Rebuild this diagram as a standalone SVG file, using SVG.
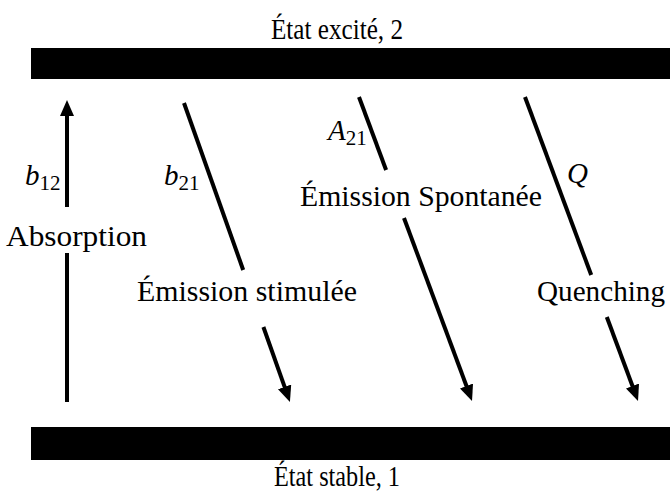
<svg xmlns="http://www.w3.org/2000/svg" width="670" height="491" viewBox="0 0 670 491">
<style>
.t{font-family:"Liberation Serif",serif;font-size:29px;fill:#000}
.m{font-family:"Liberation Serif",serif;font-size:29px;font-style:italic;fill:#000}
.s{font-size:21px;font-style:normal}
.ln{stroke:#000;stroke-width:4;fill:none}
.bar{fill:#000}
</style>
<defs>
<marker id="ah" markerUnits="userSpaceOnUse" markerWidth="16" markerHeight="14" refX="3" refY="7" orient="auto">
<path d="M0,0 L16,7 L0,14 z" fill="#000"/>
</marker>
</defs>
<g id="etat2">
<rect class="bar" x="31" y="48" width="639" height="31"/>
<text class="t" x="337" y="39" text-anchor="middle" textLength="132" lengthAdjust="spacingAndGlyphs">État excité, 2</text>
</g>
<g id="etat1">
<rect class="bar" x="31" y="427" width="639" height="33"/>
<text class="t" x="337" y="486" text-anchor="middle" textLength="126" lengthAdjust="spacingAndGlyphs">État stable, 1</text>
</g>
<g id="connectors">
<line class="ln" x1="67" y1="402" x2="67" y2="253"/>
<line class="ln" x1="67" y1="207" x2="67" y2="113" marker-end="url(#ah)"/>
<line class="ln" x1="184" y1="103" x2="243.2" y2="270"/>
<line class="ln" x1="263.4" y1="327" x2="285.6" y2="389.7" marker-end="url(#ah)"/>
<line class="ln" x1="359" y1="97" x2="386.1" y2="170"/>
<line class="ln" x1="404" y1="218" x2="467.5" y2="388.8" marker-end="url(#ah)"/>
<line class="ln" x1="525" y1="97" x2="591.2" y2="275"/>
<line class="ln" x1="606.8" y1="317" x2="633.5" y2="388.8" marker-end="url(#ah)"/>
</g>
<g id="absorption">
<text class="m" x="25" y="185">b<tspan class="s" dy="5">12</tspan></text>
<text class="t" x="6" y="246" textLength="141" lengthAdjust="spacingAndGlyphs">Absorption</text>
</g>
<g id="stimulee">
<text class="m" x="164" y="185">b<tspan class="s" dy="5">21</tspan></text>
<text class="t" x="137" y="301" textLength="220" lengthAdjust="spacingAndGlyphs">Émission stimulée</text>
</g>
<g id="spontanee">
<text class="m" x="328" y="140">A<tspan class="s" dy="5">21</tspan></text>
<text class="t" x="300" y="206" textLength="242" lengthAdjust="spacingAndGlyphs">Émission Spontanée</text>
</g>
<g id="quenching">
<text class="m" x="567" y="183">Q</text>
<text class="t" x="537" y="301" textLength="128" lengthAdjust="spacingAndGlyphs">Quenching</text>
</g>
</svg>
